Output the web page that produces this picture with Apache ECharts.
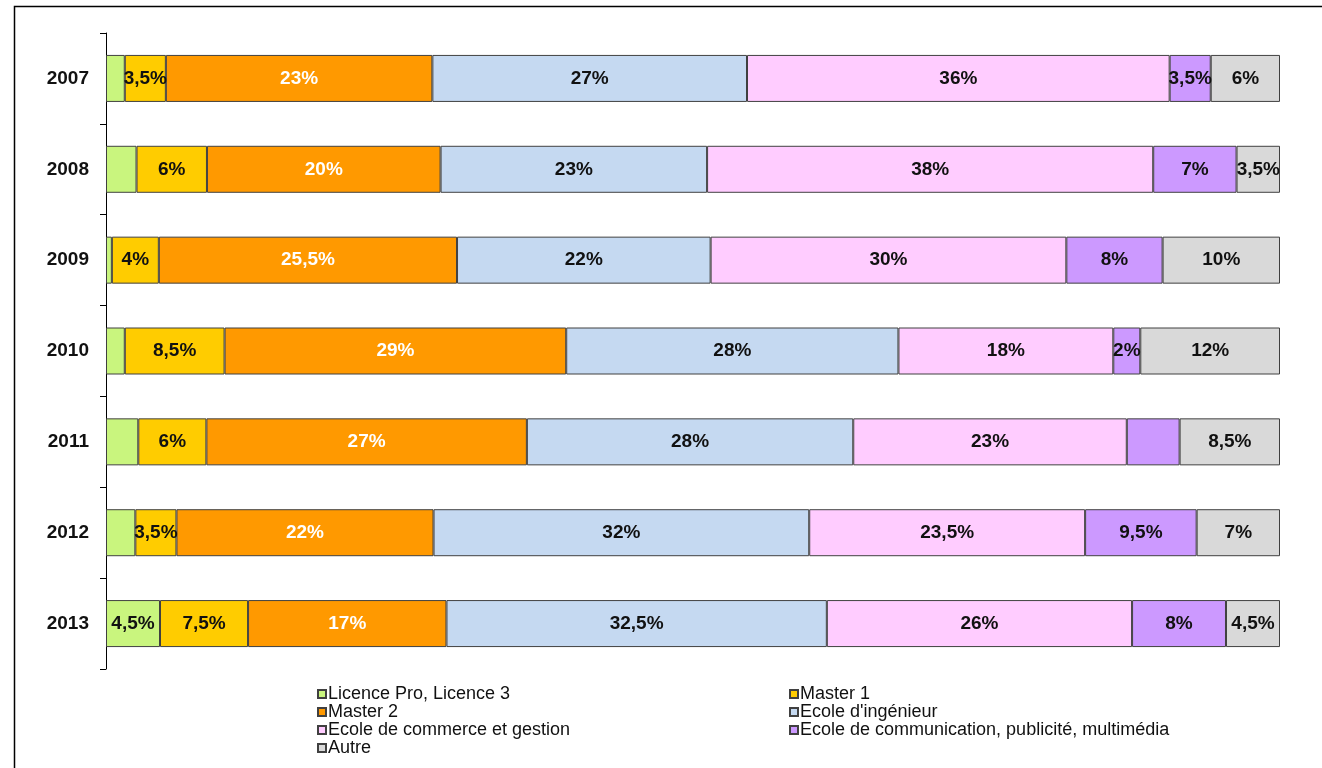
<!DOCTYPE html>
<html>
<head>
<meta charset="utf-8">
<script src="https://cdn.jsdelivr.net/npm/echarts@6/dist/echarts.min.js"></script>
<style>
html,body{margin:0;padding:0;background:#fff;}
#chart{width:1322px;height:768px;}
</style>
</head>
<body>
<div id="chart"></div>
<script>
// Categories (years)
const years = ['2007', '2008', '2009', '2010', '2011', '2012', '2013'];

// Series names
const seriesNames = [
  'Licence Pro, Licence 3',
  'Master 1',
  'Master 2',
  "Ecole d'ingénieur",
  'Ecole de commerce et gestion',
  'Ecole de communication, publicité, multimédia',
  'Autre'
];

// Series values (percent)
const licenceValues   = [1.6, 2.6, 0.5, 1.6, 2.75, 2.5, 4.6];
const master1Values   = [3.5, 6.0, 4.0, 8.5, 5.8, 3.5, 7.5];
const master2Values   = [22.7, 19.9, 25.4, 29.1, 27.3, 21.9, 16.9];
const ingenieurValues = [26.8, 22.7, 21.6, 28.3, 27.8, 32.0, 32.4];
const commerceValues  = [36.0, 38.0, 30.3, 18.3, 23.3, 23.5, 26.0];
const communicationValues = [3.5, 7.1, 8.2, 2.3, 4.5, 9.5, 8.0];
const autreValues     = [5.9, 3.7, 10.0, 11.9, 8.55, 7.1, 4.6];

// Data label texts as printed on the chart
const licenceLabels   = [null, null, null, null, null, null, '4,5%'];
const master1Labels   = ['3,5%', '6%', '4%', '8,5%', '6%', '3,5%', '7,5%'];
const master2Labels   = ['23%', '20%', '25,5%', '29%', '27%', '22%', '17%'];
const ingenieurLabels = ['27%', '23%', '22%', '28%', '28%', '32%', '32,5%'];
const commerceLabels  = ['36%', '38%', '30%', '18%', '23%', '23,5%', '26%'];
const communicationLabels = ['3,5%', '7%', '8%', '2%', null, '9,5%', '8%'];
const autreLabels     = ['6%', '3,5%', '10%', '12%', '8,5%', '7%', '4,5%'];

const allValues = [licenceValues, master1Values, master2Values, ingenieurValues, commerceValues, communicationValues, autreValues];
const allLabels = [licenceLabels, master1Labels, master2Labels, ingenieurLabels, commerceLabels, communicationLabels, autreLabels];
const colors = ['#c9f57e', '#ffcc00', '#ff9900', '#c5d9f1', '#ffccff', '#cc99ff', '#d9d9d9'];
const labelColors = ['#111', '#111', '#ffffff', '#111', '#111', '#111', '#111'];

const FONT = "'Liberation Sans', Arial, Helvetica, sans-serif";

const series = seriesNames.map((name, i) => ({
  name: name,
  type: 'bar',
  stack: 'total',
  barWidth: 47,
  data: allValues[i],
  itemStyle: { color: colors[i], borderColor: '#404040', borderWidth: 1 },
  label: {
    show: true,
    position: 'inside',
    color: labelColors[i],
    fontFamily: FONT,
    fontWeight: 'bold',
    fontSize: 19,
    formatter: p => allLabels[i][p.dataIndex] || ''
  },
  emphasis: { disabled: true },
  animation: false
}));

const chart = echarts.init(document.getElementById('chart'), null, { renderer: 'canvas' });
chart.setOption({
  backgroundColor: '#ffffff',
  animation: false,
  graphic: [{
    type: 'rect',
    left: 12, top: 4,
    shape: { width: 1400, height: 820 },
    style: { fill: 'none', stroke: '#000', lineWidth: 1.5 },
    silent: true, z: -1
  }],
  grid: { left: 106, top: 33, width: 1174, height: 636, containLabel: false },
  xAxis: { type: 'value', min: 0, max: 100, show: false },
  yAxis: {
    type: 'category',
    data: years,
    inverse: true,
    axisLine: { show: true, lineStyle: { color: '#000', width: 1 } },
    axisTick: { show: true, length: 6, lineStyle: { color: '#000', width: 1 } },
    axisLabel: { color: '#111', fontFamily: FONT, fontWeight: 'bold', fontSize: 19, margin: 17 },
    splitLine: { show: false }
  },
  legend: [
    {
      orient: 'vertical', left: 317, top: 685, padding: 0, itemGap: 0,
      itemWidth: 8, itemHeight: 8, icon: 'rect',
      data: [seriesNames[0], seriesNames[2], seriesNames[4], seriesNames[6]],
      textStyle: { color: '#111', fontFamily: FONT, fontSize: 18, lineHeight: 18, padding: [0, 0, 0, -3] },
      selectedMode: false
    },
    {
      orient: 'vertical', left: 789, top: 685, padding: 0, itemGap: 0,
      itemWidth: 8, itemHeight: 8, icon: 'rect',
      data: [seriesNames[1], seriesNames[3], seriesNames[5]],
      textStyle: { color: '#111', fontFamily: FONT, fontSize: 18, lineHeight: 18, padding: [0, 0, 0, -3] },
      selectedMode: false
    }
  ],
  series: series
});
</script>
</body>
</html>
